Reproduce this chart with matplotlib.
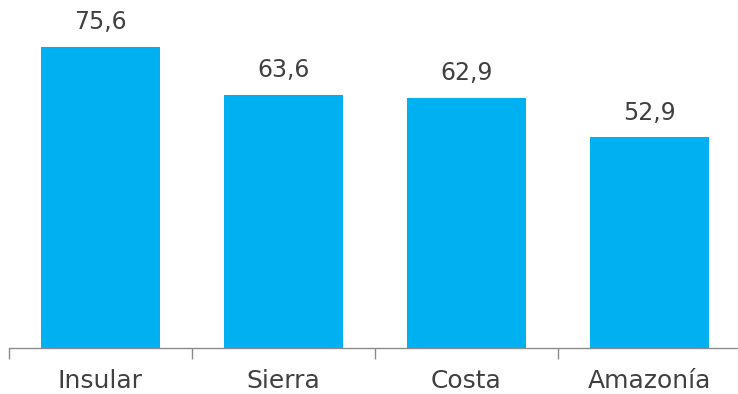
import matplotlib
matplotlib.use("Agg")
import matplotlib.pyplot as plt

# -----------------------
# Data
# -----------------------
regions = ["Insular", "Sierra", "Costa", "Amazonía"]
values = [75.6, 63.6, 62.9, 52.9]
value_labels = ["75,6", "63,6", "62,9", "52,9"]

BAR_COLOR = "#00B0F0"
TEXT_COLOR = "#404040"
AXIS_COLOR = "#8C8C8C"

W, H = 738, 394
fig = plt.figure(figsize=(W / 100, H / 100), dpi=100)

# axes spans pixel x 9..741, y 0..348 (from top)
ax = fig.add_axes([9 / W, (H - 348) / H, 732 / W, 348 / H])
ax.set_facecolor("none")

x = range(len(regions))
ax.bar(x, values, width=0.65, color=BAR_COLOR)

for xi, v, lab in zip(x, values, value_labels):
    ax.annotate(lab, (xi, v), xytext=(0, 9), textcoords="offset points",
                ha="center", va="bottom", fontsize=17, color=TEXT_COLOR)

ax.set_xlim(-0.5, len(regions) - 0.5)
ax.set_ylim(0, 87.4)

for s in ["top", "right", "left"]:
    ax.spines[s].set_visible(False)
ax.spines["bottom"].set_color(AXIS_COLOR)
ax.spines["bottom"].set_linewidth(1.0)

ax.set_yticks([])
ax.set_xticks([i - 0.5 for i in range(len(regions) + 1)], minor=False)
ax.set_xticklabels([""] * (len(regions) + 1))
ax.tick_params(axis="x", which="major", length=8, color=AXIS_COLOR, width=1.0)
ax.set_xticks(list(x), minor=True)
ax.set_xticklabels(regions, minor=True, fontsize=18, color=TEXT_COLOR)
ax.tick_params(axis="x", which="minor", length=0, pad=15)

plt.savefig("out.png", dpi=100)
